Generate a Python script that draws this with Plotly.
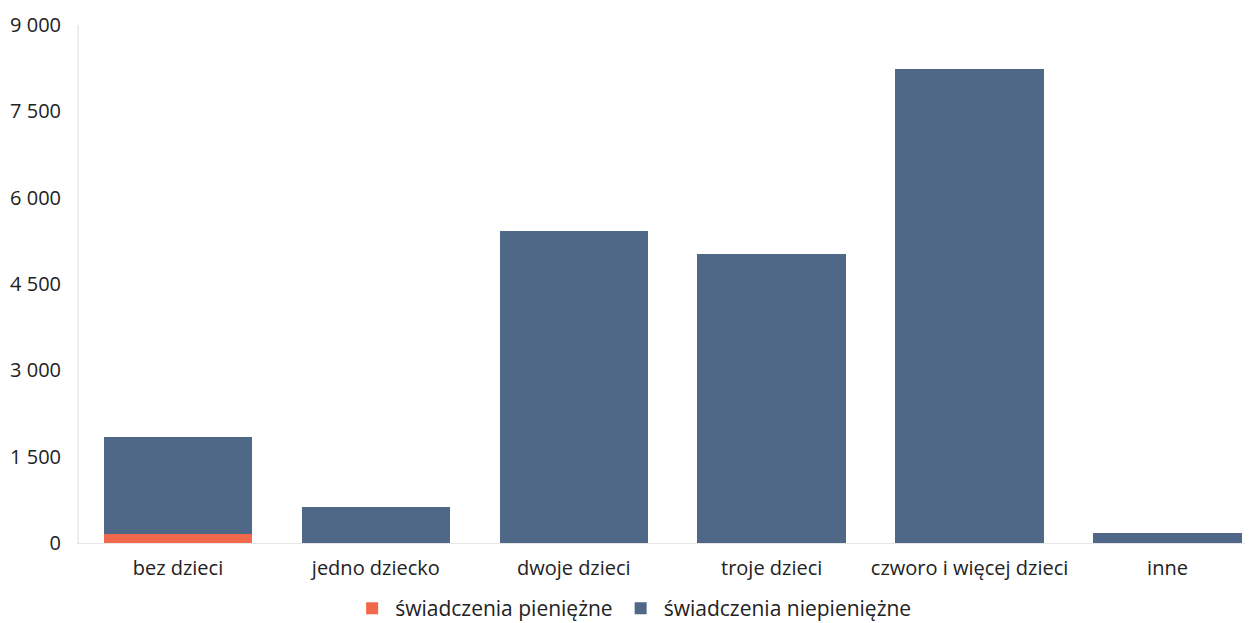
import plotly.graph_objects as go

categories = ["bez dzieci", "jedno dziecko", "dwoje dzieci", "troje dzieci", "czworo i więcej dzieci", "inne"]
pieniezne = [150, 0, 0, 0, 0, 0]
niepieniezne = [1690, 625, 5420, 5020, 8240, 175]
tick_vals = [0, 1500, 3000, 4500, 6000, 7500, 9000]

fig = go.Figure()
fig.add_trace(go.Bar(x=categories, y=pieniezne, name="świadczenia pieniężne",
                     marker=dict(color="#f0694a", line=dict(width=0)), width=0.75))
fig.add_trace(go.Bar(x=categories, y=niepieniezne, name="świadczenia niepieniężne",
                     marker=dict(color="#506888", line=dict(width=0)), width=0.75))

fig.update_layout(
    width=1245, height=615,
    barmode="stack",
    separators=", ",
    paper_bgcolor="white", plot_bgcolor="white",
    margin=dict(l=71, r=0, t=17, b=80, autoexpand=False),
    font=dict(family="Open Sans", size=20, color="#222222"),
    legend=dict(orientation="h", x=0.472, xanchor="center", y=-0.087, yanchor="top",
                font=dict(size=21), traceorder="normal", itemwidth=36),
    showlegend=True,
)
fig.update_xaxes(range=[-0.5, 5.432], showline=True, linecolor="#e6e6e6", linewidth=1,
                 ticks="", showgrid=False, tickfont=dict(size=20), automargin=False,
                 ticklabelstandoff=7)
fig.update_yaxes(range=[0, 9000], tickvals=tick_vals, tickformat=",d", showgrid=False,
                 showline=True, linecolor="#eeeeee", linewidth=2, ticks="",
                 zeroline=False, tickfont=dict(size=20), ticklabelstandoff=12,
                 automargin=False)

fig.write_html("out.html")
